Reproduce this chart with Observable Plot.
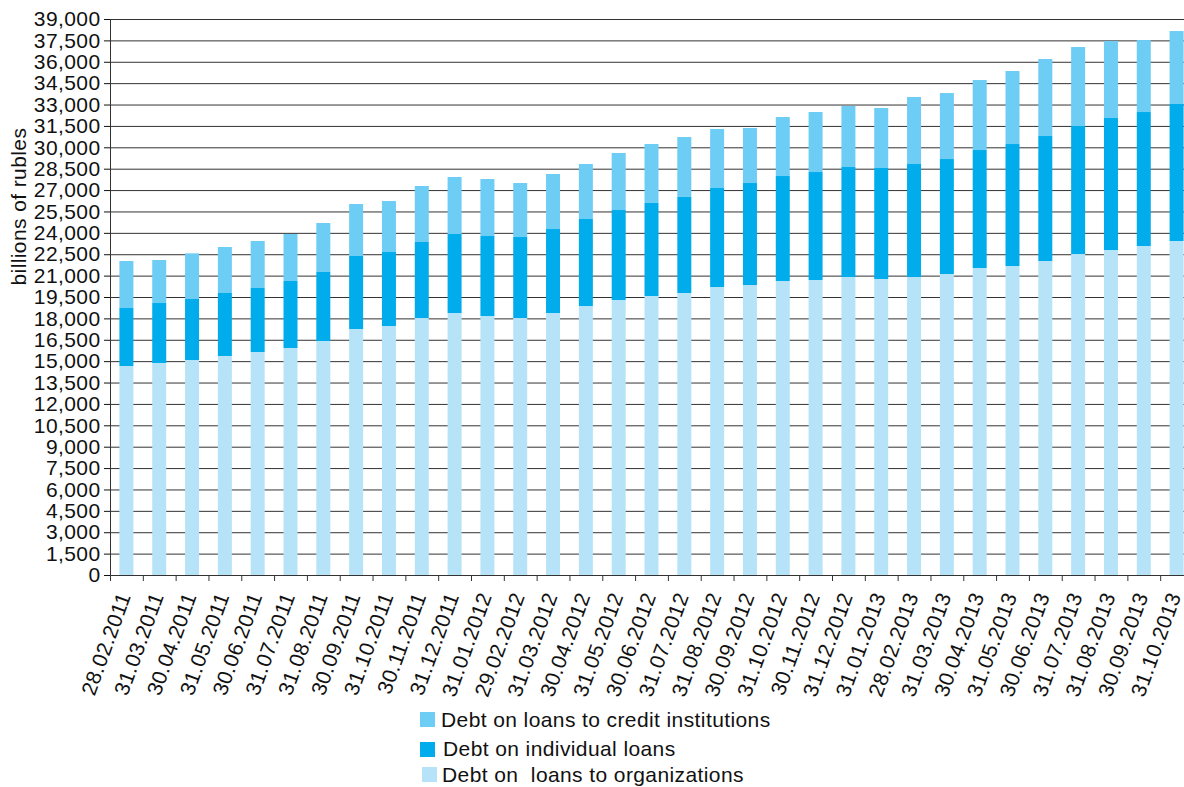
<!DOCTYPE html>
<html>
<head>
<meta charset="utf-8">
<script src="https://cdn.jsdelivr.net/npm/d3@7"></script>
<script src="https://cdn.jsdelivr.net/npm/@observablehq/plot@0.6"></script>
<style>
html, body { margin: 0; padding: 0; overflow: hidden; background: #fff; width: 1184px; height: 787px; }
body { position: relative; font-family: "Liberation Sans", Arial, sans-serif; }
#chart { position: absolute; left: 0; top: 0; width: 1200px; }
#chart svg { max-width: none !important; }
.title { position: absolute; left: 0; top: -27px; width: 380px; text-align: right; font: bold 26px "Liberation Sans", Arial, sans-serif; color: #1aa9e6; line-height: 1; white-space: nowrap; z-index: 2; }
.lg-text { position: absolute; font-size: 21px; letter-spacing: 0.4px; line-height: 1; white-space: pre; color: #111; }
.sw { position: absolute; width: 15px; height: 15px; }
</style>
</head>
<body>
<div id="chart"></div>
<div class="title">Loan debt in the economy</div>
<div id="legend"></div>
<script>
const dates = ["28.02.2011","31.03.2011","30.04.2011","31.05.2011","30.06.2011","31.07.2011","31.08.2011","30.09.2011","31.10.2011","30.11.2011","31.12.2011","31.01.2012","29.02.2012","31.03.2012","30.04.2012","31.05.2012","30.06.2012","31.07.2012","31.08.2012","30.09.2012","31.10.2012","30.11.2012","31.12.2012","31.01.2013","28.02.2013","31.03.2013","30.04.2013","31.05.2013","30.06.2013","31.07.2013","31.08.2013","30.09.2013","31.10.2013"];

const loansToOrganizations = [14660,14870,15080,15361,15641,15922,16413,17255,17465,18026,18377,18166,18026,18377,18868,19289,19569,19780,20200,20341,20621,20691,20902,20762,20902,21112,21533,21673,22024,22515,22796,23076,23427];
const individualLoans = [4067,4208,4279,4419,4491,4700,4840,5120,5190,5331,5541,5611,5681,5891,6102,6312,6523,6733,6944,7154,7365,7575,7715,7785,7926,8066,8277,8557,8768,8978,9259,9399,9609];
const loansToCreditInstitutions = [3298,3016,3204,3226,3295,3296,3436,3647,3577,3928,3998,3998,3788,3858,3858,3998,4138,4208,4139,3858,4139,4209,4279,4209,4699,4629,4909,5121,5401,5541,5400,5050,5120];

const seriesNames = ["Debt on  loans to organizations", "Debt on individual loans", "Debt on loans to credit institutions"];
const seriesColors = ["#b7e3f8", "#00acec", "#6dcdf5"];
const yTicks = d3.range(0, 39001, 1500);
const yLabel = "billions of rubles";

const seriesValues = [loansToOrganizations, individualLoans, loansToCreditInstitutions];
const rows = [];
dates.forEach((d, i) => {
  seriesNames.forEach((s, k) => rows.push({date: d, series: s, value: seriesValues[k][i]}));
});

const W = 1200, ML = 110, MR = 7;
const step = (W - ML - MR) / dates.length;
const barInset = (step - 14) / 2;

const plot = Plot.plot({
  width: W, height: 705,
  marginLeft: ML, marginRight: MR, marginTop: 19, marginBottom: 130,
  style: {fontFamily: "'Liberation Sans', Arial, sans-serif", fontSize: "21px", letterSpacing: "0.4px", color: "#111", background: "white", overflow: "visible", maxWidth: "none"},
  x: {domain: dates, padding: 0, round: false},
  y: {domain: [0, 39000]},
  color: {domain: seriesNames, range: seriesColors},
  marks: [
    Plot.ruleY(yTicks.filter(d => d > 0), {stroke: "#333", strokeWidth: 1}),
    Plot.barY(rows, {x: "date", y: "value", fill: "series", insetLeft: barInset, insetRight: barInset}),
    Plot.ruleY([0], {stroke: "#333"}),
    Plot.ruleX([dates[0]], {dx: -step / 2, y1: 0, y2: 39000, stroke: "#333"}),
    Plot.ruleX(dates, {dx: -step / 2, y1: 0, y2: 0, insetBottom: -6, stroke: "#333"}),
    Plot.axisY({ticks: yTicks, tickSize: 6, tickPadding: 4, tickFormat: d3.format(","), label: null}),
    Plot.text([yLabel], {text: d => d, frameAnchor: "left", rotate: -90, dx: -91, dy: -12, fill: "#111"}),
    Plot.axisX({tickSize: 0, tickRotate: -70, tickPadding: 18, dx: -2, label: null})
  ]
});
document.getElementById("chart").appendChild(plot);

// legend (top row = top of stack)
const legendRows = [
  {name: seriesNames[2], color: seriesColors[2], swx: 420, swy: 712, tx: 441, ty: 709},
  {name: seriesNames[1], color: seriesColors[1], swx: 420, swy: 742, tx: 443, ty: 738},
  {name: seriesNames[0], color: seriesColors[0], swx: 422, swy: 767, tx: 442, ty: 764}
];
const lg = document.getElementById("legend");
legendRows.forEach(r => {
  const sw = document.createElement("div");
  sw.className = "sw";
  sw.style.left = r.swx + "px"; sw.style.top = r.swy + "px"; sw.style.background = r.color;
  lg.appendChild(sw);
  const t = document.createElement("div");
  t.className = "lg-text";
  t.style.left = r.tx + "px"; t.style.top = r.ty + "px";
  t.textContent = r.name;
  lg.appendChild(t);
});
</script>
</body>
</html>
